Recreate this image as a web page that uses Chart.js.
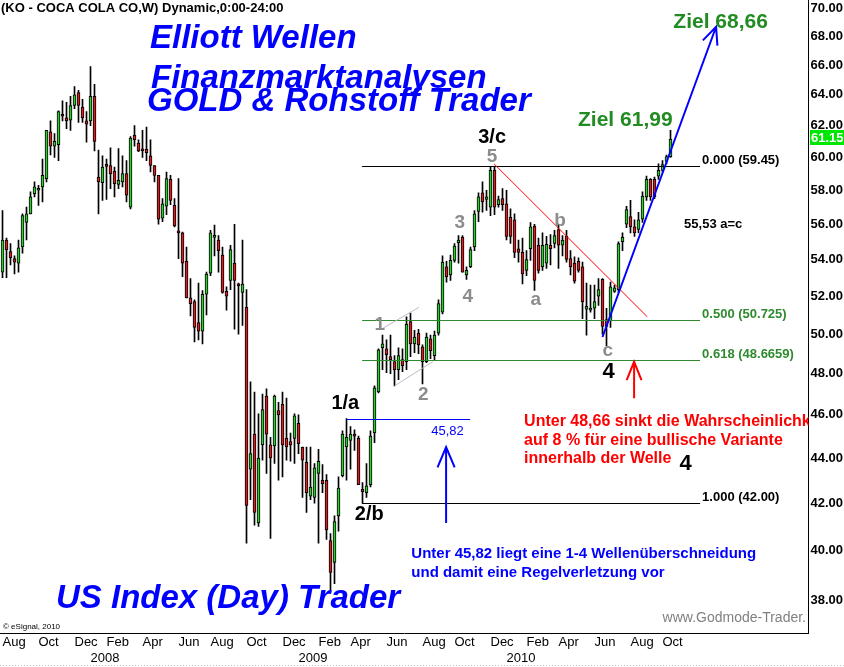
<!DOCTYPE html>
<html>
<head>
<meta charset="utf-8">
<script src="https://cdn.jsdelivr.net/npm/chart.js@4.4.0/dist/chart.umd.min.js"></script>
<style>
  html, body { margin: 0; padding: 0; background: #fff; }
  #wrap { width: 844px; height: 667px; }
</style>
</head>
<body>
<div id="wrap"><canvas id="chart" width="844" height="667"></canvas></div>
<script>
// KO weekly candles, first bar = week of Aug 3 2007, last = week of Oct 15 2010
const opens = [
  53.3, 55.1, 54.45, 54.05, 53.8, 54.7, 56.1, 56.6, 57.8, 58.0,
  58.2, 58.7, 61.6, 60.7, 60.8, 62.7, 62.5, 62.35, 63.3, 64.15,
  63.2, 62.3, 62.3, 63.9, 58.8, 58.45, 59.5, 59.5, 59.15, 58.35,
  58.5, 59.0, 57.0, 61.4, 60.9, 60.45, 60.5, 60.1, 59.5, 58.9,
  56.35, 57.05, 58.65, 57.1, 55.55, 55.5, 53.9, 51.9, 51.7, 50.6,
  50.15, 52.1, 53.25, 55.25, 55.1, 54.25, 52.25, 52.85, 53.8, 52.6,
  52.2, 51.4, 43.5, 45.1, 41.15, 44.6, 46.9, 44.6, 44.55, 46.2,
  46.5, 44.9, 44.75, 44.9, 45.6, 44.5, 43.8, 42.3, 42.25, 43.3,
  43.0, 43.0, 40.4, 39.5, 41.45, 43.2, 44.5, 44.8, 45.05, 44.9,
  42.6, 42.45, 42.8, 45.15, 47.1, 49.3, 49.25, 48.85, 48.6, 48.2,
  48.7, 48.6, 50.65, 49.5, 50.05, 49.35, 48.6, 49.75, 48.9, 50.05,
  51.15, 53.6, 53.15, 53.95, 54.95, 55.25, 53.15, 53.6, 54.7, 56.75,
  57.85, 57.45, 57.0, 59.2, 57.15, 57.5, 57.2, 56.4, 56.25, 54.6,
  54.4, 53.4, 54.6, 55.9, 54.8, 53.6, 53.8, 54.8, 54.9, 55.7,
  54.8, 55.3, 54.05, 53.8, 53.9, 53.6, 51.3, 51.25, 51.35, 52.0,
  52.9, 50.75, 50.7, 52.25, 52.35, 55.0, 56.0, 56.45, 55.85, 55.7,
  56.3, 57.6, 58.65, 58.65, 58.85, 59.2, 59.75, 60.05
];
const highs = [
  56.8, 55.2, 54.9, 54.2, 55.1, 56.6, 57.0, 57.9, 58.5, 58.3,
  59.9, 61.7, 62.3, 61.5, 62.95, 63.6, 63.5, 63.9, 64.55, 64.3,
  63.7, 62.9, 65.9, 64.7, 60.45, 60.1, 59.9, 60.6, 59.4, 60.55,
  60.1, 59.8, 61.3, 62.0, 61.1, 61.7, 61.9, 61.1, 59.5, 58.9,
  57.5, 59.1, 58.9, 57.5, 58.7, 55.55, 54.7, 52.95, 51.8, 52.7,
  52.3, 53.3, 55.65, 55.95, 55.35, 54.7, 52.5, 54.8, 56.0, 52.7,
  55.1, 52.35, 47.6, 47.1, 46.05, 47.0, 47.25, 44.95, 46.95, 46.6,
  47.1, 46.8, 45.15, 46.05, 46.0, 44.5, 44.5, 44.5, 43.75, 44.4,
  43.7, 43.25, 40.7, 41.45, 43.15, 45.25, 45.82, 45.45, 45.3, 45.0,
  42.9, 43.75, 45.25, 47.4, 49.25, 49.95, 49.7, 49.95, 48.9, 49.3,
  49.25, 50.9, 51.1, 50.2, 50.25, 49.45, 50.05, 49.95, 50.15, 51.8,
  54.2, 53.9, 54.25, 54.9, 55.35, 55.35, 53.6, 54.7, 56.8, 57.85,
  58.5, 58.0, 59.45, 59.4, 57.65, 58.1, 58.0, 56.9, 56.6, 55.1,
  55.2, 54.5, 56.1, 56.0, 55.2, 55.5, 55.3, 55.4, 55.65, 56.0,
  55.35, 55.65, 54.5, 54.15, 54.1, 53.85, 52.7, 52.6, 52.6, 52.95,
  52.95, 51.35, 52.75, 52.6, 55.0, 55.5, 57.05, 57.4, 56.25, 56.7,
  57.9, 58.85, 58.7, 58.8, 59.6, 59.8, 60.15, 61.7
];
const lows = [
  53.0, 53.0, 53.7, 53.2, 53.3, 54.35, 55.1, 56.6, 57.6, 57.1,
  57.3, 58.5, 60.15, 60.0, 59.8, 62.3, 61.8, 61.7, 63.1, 62.2,
  62.2, 60.95, 62.0, 60.4, 56.6, 57.4, 57.45, 58.1, 57.6, 58.1,
  58.2, 57.3, 56.9, 60.7, 60.35, 60.0, 59.8, 59.1, 58.5, 56.0,
  56.15, 56.55, 57.15, 55.85, 54.05, 53.05, 51.9, 50.95, 49.6, 49.7,
  49.5, 51.0, 53.1, 54.2, 53.3, 52.15, 51.25, 52.35, 50.25, 50.0,
  50.45, 40.3, 42.15, 41.05, 41.0, 43.9, 43.3, 40.5, 43.75, 43.0,
  43.15, 43.9, 43.85, 43.75, 44.2, 42.25, 41.6, 42.15, 42.0, 40.3,
  42.45, 40.45, 38.4, 38.65, 40.8, 43.15, 43.0, 43.5, 44.35, 42.8,
  42.0, 42.25, 42.7, 44.7, 47.05, 48.2, 48.05, 48.0, 47.4, 47.7,
  48.1, 48.2, 48.85, 49.05, 49.0, 47.5, 48.55, 48.75, 48.65, 49.95,
  51.05, 52.75, 52.85, 53.85, 53.8, 53.3, 52.9, 53.55, 54.5, 56.15,
  56.7, 56.8, 56.5, 56.55, 57.0, 56.8, 55.1, 54.9, 54.1, 53.85,
  52.65, 53.1, 53.95, 52.3, 53.25, 53.4, 53.5, 53.7, 54.65, 53.5,
  54.2, 53.85, 53.15, 52.7, 53.3, 50.8, 49.95, 51.15, 50.8, 51.5,
  50.0, 49.4, 50.35, 52.2, 52.2, 54.5, 55.8, 55.5, 55.3, 55.5,
  56.1, 57.4, 57.4, 57.5, 58.65, 59.1, 59.6, 60.0
];
const closes = [
  55.1, 54.55, 54.1, 53.85, 54.65, 56.5, 56.6, 57.6, 58.2, 58.05,
  58.9, 61.7, 60.7, 61.0, 62.9, 62.6, 62.3, 63.3, 64.0, 63.3,
  62.5, 62.1, 63.9, 61.0, 58.5, 59.4, 59.45, 59.0, 58.4, 58.6,
  59.0, 57.7, 61.2, 61.1, 60.4, 60.4, 60.3, 59.5, 58.9, 56.3,
  57.2, 58.7, 57.4, 55.9, 55.5, 53.8, 51.9, 51.6, 50.35, 50.15,
  52.1, 53.2, 55.5, 55.3, 54.5, 52.2, 52.0, 54.55, 52.85, 52.55,
  52.65, 41.9, 44.2, 41.6, 44.0, 46.25, 45.1, 44.0, 46.9, 46.0,
  44.6, 44.5, 44.6, 45.95, 44.65, 43.9, 42.45, 42.7, 43.55, 43.85,
  42.85, 40.85, 39.1, 41.2, 42.65, 45.1, 44.95, 45.1, 45.0, 42.8,
  42.5, 42.75, 45.0, 47.3, 49.2, 49.5, 48.95, 48.7, 48.2, 48.9,
  48.4, 50.5, 49.5, 49.85, 49.45, 48.6, 49.85, 49.15, 49.95, 51.6,
  53.85, 53.05, 53.95, 54.75, 55.1, 53.3, 53.4, 54.55, 56.6, 57.6,
  57.3, 57.6, 59.2, 57.0, 57.45, 57.15, 55.3, 55.3, 54.4, 54.4,
  53.2, 54.0, 55.85, 52.85, 53.4, 54.8, 54.85, 54.6, 55.35, 54.8,
  55.1, 54.0, 53.6, 52.8, 53.4, 51.7, 51.45, 51.35, 51.7, 52.35,
  50.4, 50.4, 52.5, 52.45, 54.9, 55.25, 56.85, 55.85, 55.5, 56.25,
  57.65, 58.65, 57.6, 57.6, 59.2, 59.55, 60.05, 61.15
];

// axis
const slotCount = 202; // weeks on the x axis, incl. empty space to the right
const yTicks = [38, 40, 42, 44, 46, 48, 50, 52, 54, 56, 58, 60, 62, 64, 66, 68, 70];
const monthTickWeeks = [0, 9, 18, 26, 35, 44, 52, 61, 70, 79, 87, 96, 105, 113, 122, 131, 139, 148, 157, 165];
const monthTickNames = ['Aug', 'Oct', 'Dec', 'Feb', 'Apr', 'Jun', 'Aug', 'Oct', 'Dec', 'Feb',
                        'Apr', 'Jun', 'Aug', 'Oct', 'Dec', 'Feb', 'Apr', 'Jun', 'Aug', 'Oct'];
const yearTickWeeks = [22, 74, 126];
const yearTickNames = ['2008', '2009', '2010'];

// analysis levels
const lastPrice = 61.15;
const fibLevels = [59.45, 50.725, 48.6659, 42.00];
const fibLabels = ['0.000 (59.45)', '0.500 (50.725)', '0.618 (48.6659)', '1.000 (42.00)'];
const wave1High = 45.82;
const targetAC = 55.53;
const target1 = 61.99;
const target2 = 68.66;

const FONT = '"Liberation Sans", Arial, sans-serif';
const UP = '#2ecc2e';
const DOWN = '#d42020';

const labels = [];
for (let i = 0; i < slotCount; i++) {
  const m = monthTickWeeks.indexOf(i);
  const y = yearTickWeeks.indexOf(i);
  if (m >= 0) labels.push(monthTickNames[m]);
  else if (y >= 0) labels.push(['', yearTickNames[y]]);
  else labels.push('');
}

function arrow(ctx, x1, y1, x2, y2, len, ang) {
  const a = Math.atan2(y2 - y1, x2 - x1);
  ctx.beginPath();
  ctx.moveTo(x1, y1);
  ctx.lineTo(x2, y2);
  ctx.moveTo(x2 - len * Math.cos(a - ang), y2 - len * Math.sin(a - ang));
  ctx.lineTo(x2, y2);
  ctx.lineTo(x2 - len * Math.cos(a + ang), y2 - len * Math.sin(a + ang));
  ctx.stroke();
}

function seg(ctx, x1, y1, x2, y2) {
  ctx.beginPath();
  ctx.moveTo(x1, y1);
  ctx.lineTo(x2, y2);
  ctx.stroke();
}

function txt(ctx, s, x, y, font, color, align) {
  ctx.font = font;
  ctx.fillStyle = color;
  ctx.textAlign = align || 'left';
  ctx.textBaseline = 'alphabetic';
  ctx.fillText(s, x, y);
}

function noPad(s) {
  s.paddingTop = 0;
  s.paddingBottom = 0;
  s.paddingLeft = 0;
  s.paddingRight = 0;
}

const elliott = {
  id: 'elliott',
  afterDatasetsDraw(chart) {
    const { ctx, chartArea: a } = chart;
    const xs = chart.scales.x, ys = chart.scales.y;
    const X = w => xs.getPixelForValue(w);
    const Y = p => ys.getPixelForValue(p);
    const gray = '#8c8c8c';
    const green = '#2f8a2f';

    ctx.save();
    ctx.beginPath();
    ctx.rect(a.left - 1, a.top, a.right - a.left + 1, a.bottom - a.top);
    ctx.clip();

    // fibonacci retracement lines
    fibLevels.forEach((lv, k) => {
      const y = Math.round(Y(lv)) + 0.5;
      const col = (k === 1 || k === 2) ? green : '#000';
      ctx.strokeStyle = col;
      ctx.lineWidth = 1;
      seg(ctx, X(89.9), y, X(174.4), y);
      txt(ctx, fibLabels[k], X(174.4) + 2, y - 3, 'bold 13px ' + FONT, col);
    });

    // wave 1 high
    ctx.strokeStyle = '#0000ff';
    ctx.lineWidth = 1;
    const y1h = Math.round(Y(wave1High)) + 0.5;
    seg(ctx, X(86.1), y1h, X(116.9), y1h);
    txt(ctx, '45,82', X(107.2), y1h + 15, '13px ' + FONT, '#0000ff');

    // channel of the 1-2 wave
    ctx.strokeStyle = '#c4b4cc';
    seg(ctx, X(95.1), Y(50.3), X(104.1), Y(51.4));
    seg(ctx, X(98.0), Y(47.4), X(107.6), Y(48.6));

    // downtrend line of the correction
    ctx.strokeStyle = '#ff0000';
    seg(ctx, X(122.9), Y(59.6), X(161.2), Y(50.9));

    // trend arrow to target
    ctx.strokeStyle = '#0000ff';
    ctx.lineWidth = 2;
    arrow(ctx, X(150), Y(49.85), X(178.4), Y(target2), 19, 0.42);

    // vertical arrows
    arrow(ctx, X(110.9), Y(41.15), X(110.9), Y(44.5), 22, 0.4);
    ctx.strokeStyle = '#ff0000';
    arrow(ctx, X(157.9), Y(46.8), X(157.9), Y(48.6), 20, 0.38);

    // wave labels
    const waves = [
      ['3/c', 122.4, 60.9, 'bold 20px ', '#000'],
      ['5', 122.4, 59.72, 'bold 19px ', gray],
      ['3', 114.3, 55.8, 'bold 19px ', gray],
      ['4', 116.3, 51.7, 'bold 19px ', gray],
      ['1', 94.3, 50.2, 'bold 19px ', gray],
      ['2', 105.2, 46.7, 'bold 19px ', gray],
      ['b', 139.4, 55.9, 'bold 19px ', gray],
      ['a', 133.3, 51.5, 'bold 19px ', gray],
      ['c', 151.3, 48.9, 'bold 19px ', gray],
      ['4', 151.5, 47.77, 'bold 22px ', '#000'],
      ['1/a', 85.7, 46.27, 'bold 20px ', '#000'],
      ['2/b', 91.7, 41.27, 'bold 20px ', '#000'],
      ['4', 170.8, 43.45, 'bold 22px ', '#000']
    ];
    waves.forEach(w => txt(ctx, w[0], X(w[1]), Y(w[2]), w[3] + FONT, w[4], 'center'));

    // targets
    txt(ctx, 'Ziel 61,99', X(155.7), Y(target1), 'bold 21px ' + FONT, '#228b22', 'center');
    txt(ctx, 'Ziel 68,66', X(167.7), Y(target2) + 1, 'bold 21px ' + FONT, '#228b22');
    txt(ctx, '55,53 a=c', X(170.4), Y(targetAC) - 4, 'bold 13px ' + FONT, '#000');

    // notes
    const red = ['Unter 48,66 sinkt die Wahrscheinlichkeit', 'auf 8 % für eine bullische Variante', 'innerhalb der Welle'];
    const ry = Y(45.47);
    red.forEach((s, k) => txt(ctx, s, X(130.4), ry + k * 18.5, 'bold 16px ' + FONT, '#ff0000'));
    const blue = ['Unter 45,82 liegt eine 1-4 Wellenüberschneidung', 'und damit eine Regelverletzung vor'];
    const by = Y(39.68);
    blue.forEach((s, k) => txt(ctx, s, X(102.2), by + k * 19, 'bold 15px ' + FONT, '#0000ff'));

    // headings
    const big = 'italic bold 33px ' + FONT;
    txt(ctx, 'Elliott Wellen', 150, 48, big, '#0000ff');
    txt(ctx, 'Finanzmarktanalysen', 151, 88, big, '#0000ff');
    txt(ctx, 'GOLD & Rohstoff Trader', 147, 111, big, '#0000ff');
    txt(ctx, 'US Index (Day) Trader', 56, 608, big, '#0000ff');
    txt(ctx, '(KO - COCA COLA CO,W) Dynamic,0:00-24:00', 1, 12, 'bold 13px ' + FONT, '#000');
    txt(ctx, '\u00a9 eSignal, 2010', 3, 629, '8px ' + FONT, '#000');
    txt(ctx, 'www.Godmode-Trader.', 806, 622, '14px ' + FONT, '#808080', 'right');

    ctx.restore();
  },
  afterDraw(chart) {
    const { ctx, chartArea: a } = chart;
    const yp = chart.scales.y.getPixelForValue(lastPrice);
    ctx.save();
    ctx.fillStyle = '#00e600';
    ctx.fillRect(a.right + 1.5, Math.round(yp) - 9, 36, 15);
    txt(ctx, lastPrice.toFixed(2), a.right + 2.5, Math.round(yp) + 3, 'bold 13px ' + FONT, '#fff');
    ctx.strokeStyle = '#c0c0c0';
    ctx.lineWidth = 1;
    ctx.setLineDash([1, 2]);
    seg(ctx, 0, 665.5, 844, 665.5);
    ctx.restore();
  }
};

new Chart(document.getElementById('chart'), {
  type: 'bar',
  data: {
    labels: labels,
    datasets: [
      {
        data: opens.map((o, i) => [o, closes[i]]),
        backgroundColor: opens.map((o, i) => closes[i] >= o ? UP : DOWN),
        borderColor: '#000',
        borderWidth: 1,
        borderSkipped: false,
        barThickness: 3,
        minBarLength: 2,
        grouped: false,
        order: 0
      },
      {
        data: lows.map((l, i) => [l, highs[i]]),
        backgroundColor: '#000',
        borderWidth: 0,
        barThickness: 1,
        grouped: false,
        order: 1
      }
    ]
  },
  options: {
    responsive: false,
    animation: false,
    devicePixelRatio: 1,
    layout: { padding: { left: 0.5, top: 0, right: 0, bottom: 0 } },
    plugins: {
      legend: { display: false },
      tooltip: { enabled: false }
    },
    scales: {
      x: {
        type: 'category',
        offset: true,
        grid: { display: false, drawTicks: false },
        border: { display: true, color: '#000', width: 1 },
        ticks: {
          autoSkip: false,
          maxRotation: 0,
          minRotation: 0,
          align: 'start',
          padding: 2,
          color: '#000',
          font: { family: FONT, size: 13 }
        },
        afterFit: s => { s.height = 34; noPad(s); }
      },
      y: {
        type: 'logarithmic',
        position: 'right',
        min: 36.73,
        max: 70.58,
        grid: { display: false, drawTicks: false },
        border: { display: true, color: '#000', width: 1 },
        afterBuildTicks: s => { s.ticks = yTicks.map(v => ({ value: v })); },
        ticks: {
          autoSkip: false,
          padding: 2,
          color: '#000',
          font: { family: FONT, size: 13, weight: 'bold' },
          callback: v => Number(v).toFixed(2)
        },
        afterFit: s => { s.width = 35.5; noPad(s); }
      }
    }
  },
  plugins: [elliott]
});
</script>
</body>
</html>
